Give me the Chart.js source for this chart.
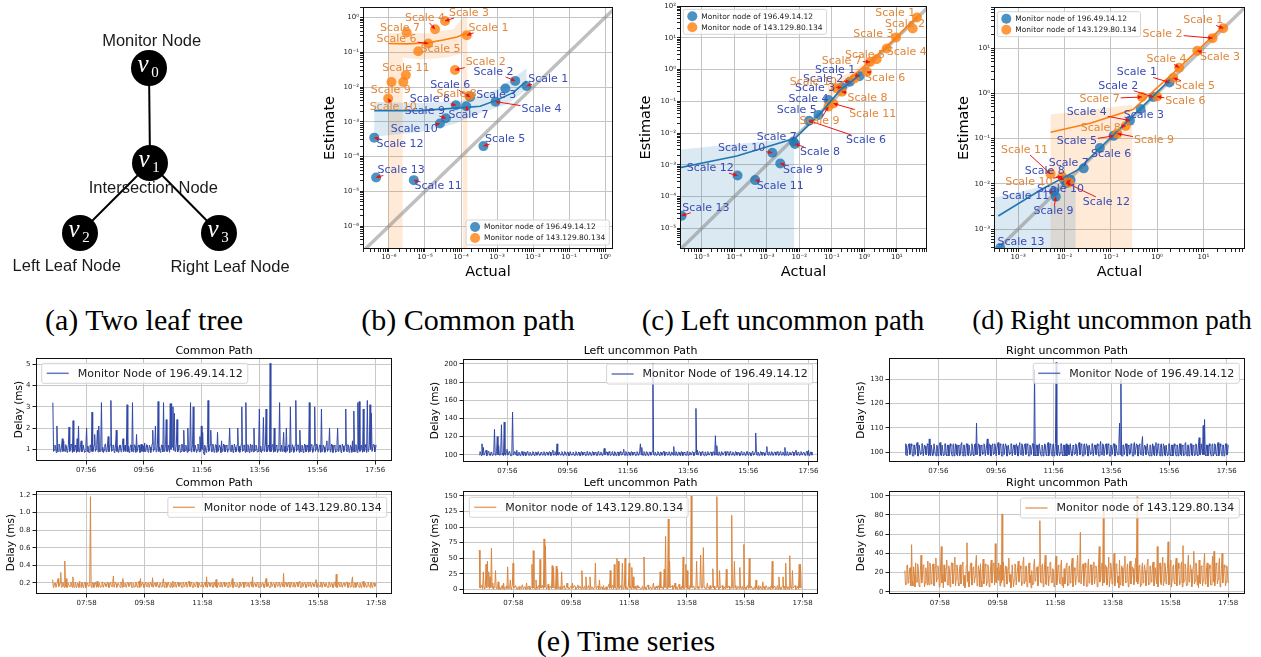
<!DOCTYPE html>
<html><head><meta charset="utf-8">
<script src="https://cdn.jsdelivr.net/npm/chart.js@4.4.1/dist/chart.umd.min.js"></script>
<style>
html,body{margin:0;padding:0;background:#fff;}
#page{position:relative;width:1261px;height:657px;overflow:hidden;background:#fff;}
canvas{position:absolute;}
.cap{position:absolute;width:420px;text-align:center;font-family:"Liberation Serif","Times New Roman",serif;font-size:30px;line-height:32px;color:#000;white-space:nowrap;}
</style></head><body><div id="page">
<div class="cap" style="left:-66px;top:304px;">(a) Two leaf tree</div>
<div class="cap" style="left:258px;top:304px;">(b) Common path</div>
<div class="cap" style="left:573px;top:304px;font-size:29px;">(c) Left uncommon path</div>
<div class="cap" style="left:902px;top:304px;font-size:27px;">(d) Right uncommon path</div>
<div class="cap" style="left:416px;top:625px;">(e) Time series</div>
</div>
<script>
// ---------------- DATA ----------------
// (a) tree
const nodeNames = ['Monitor Node','Intersection Node','Left Leaf Node','Right Leaf Node'];
const nodeSymbols = ['0','1','2','3'];
const nodeX = [149,150,80,219];
const nodeY = [68,163,233,233];
const treeEdges = [[0,1],[1,2],[1,3]];

const scaleNames = ['Scale 1','Scale 2','Scale 3','Scale 4','Scale 5','Scale 6','Scale 7','Scale 8','Scale 9','Scale 10','Scale 11','Scale 12','Scale 13'];
const scatterLegend = ['Monitor node of 196.49.14.12','Monitor node of 143.129.80.134'];

// (b) Common path
const bBlueActual = [6.6e-3,3.2e-3,1.7e-3,9.1e-4,4.2e-4,1.8e-4,1.4e-4,7.2e-5,3.8e-5,2.6e-5,4.9e-6,3.9e-7,4.4e-7];
const bBlueEst    = [1.07e-2,1.5e-2,9.1e-3,3.8e-3,2.0e-4,5.2e-3,2.8e-3,3.0e-3,1.26e-3,8.9e-4,2.1e-5,3.5e-4,2.5e-5];
const bOrangeActual = [1.45e-4,6.8e-5,3.6e-5,1.9e-5,6.5e-6,1.23e-5,3.1e-6,1.7e-4,1.17e-6,9.5e-7,2.95e-6,2.5e-6];
const bOrangeEst    = [0.31,3.1e-2,0.79,0.46,0.107,0.178,0.37,5.6e-3,1.4e-2,4.7e-3,2.2e-2,1.4e-2];
const bBlueFitX = [3.9e-7,7.2e-6,1.45e-4,3.4e-4,9.8e-4,2.8e-3,6.6e-3];
const bBlueFitY = [2.1e-3,2.1e-3,2.6e-3,2.8e-3,4.2e-3,6.9e-3,1.48e-2];
const bOrangeFitX = [9.5e-7,3.1e-6,1.15e-5,3.2e-5,7.8e-5,1.45e-4];
const bOrangeFitY = [0.178,0.174,0.186,0.224,0.275,0.36];
const bBlueBandX = [3.9e-7,7.2e-6,1.45e-4,9.8e-4,6.6e-3,6.6e-3,1.9e-3,3.4e-4,6.2e-5,7.2e-6,3.9e-7];
const bBlueBandY = [3.8e-3,3.4e-3,4.2e-3,8.5e-3,3.4e-2,8.5e-3,3.2e-3,1.8e-3,8.5e-4,5.1e-4,3.7e-4];
const bOrangeBandX = [9.5e-7,9.5e-7,1.1e-5,6.2e-5,1.15e-4,1.5e-4,1.5e-4,1.12e-4,1.12e-4,4e-5,7.2e-6,2.4e-6,2.4e-6];
const bOrangeBandY = [1e-7,0.36,0.35,0.46,1.05,1.05,1e-7,1e-7,9.3e-2,7.1e-2,6.2e-2,7.1e-2,1e-7];

// (c) Left uncommon path
const cBlueActual = [0.71,0.36,0.204,0.079,0.039,0.020,6.6e-3,7.4e-3,2.6e-3,1.48e-3,4.4e-4,1.26e-4,2.4e-6];
const cBlueEst    = [0.62,0.41,0.275,0.11,0.037,0.0245,5.4e-3,4.5e-3,1.1e-3,2.4e-3,3.3e-4,4.6e-4,2.5e-5];
const cOrangeActual = [41.7,30.9,9.5,4.9,2.4,1.2,1.5,0.204,0.079,0.141,0.112,0.5];
const cOrangeEst    = [43.6,19.5,10.2,4.6,2.1,0.85,1.74,0.2,0.068,0.257,0.085,0.52];
const cBlueFitX = [2.1e-6,1.2e-4,7.4e-3,0.044,0.18,0.74];
const cBlueFitY = [8.1e-4,1.9e-3,6.8e-3,0.041,0.224,0.68];
const cOrangeFitX = [0.085,0.47,4.9,41.7];
const cOrangeFitY = [0.214,0.66,5.2,45.7];
const cBlueBandX = [2e-6,6.9e-3,6.9e-3,2e-6];
const cBlueBandY = [3.0e-3,6.8e-3,1e-6,1e-6];
const cOrangeBandX = [0.075,0.47,4.9,45,45,4.9,0.47,0.075];
const cOrangeBandY = [0.11,0.5,4.4,40,55,6.1,0.9,0.38];

// (d) Right uncommon path
const dBlueActual = [1.86,0.83,0.44,0.26,0.115,0.058,0.026,9.8e-3,6.5e-3,1.35e-2,5.9e-3,1.1e-2,4.1e-4];
const dBlueEst    = [1.74,0.83,0.45,0.25,0.115,0.062,0.022,1.23e-2,5.2e-3,1.23e-2,6.8e-3,1.05e-2,3.8e-4];
const dOrangeActual = [26.9,15.8,7.4,3.0,2.24,1.0,0.47,0.21,0.138,8.9e-3,5.0e-3,1.26e-2];
const dOrangeEst    = [27.5,16.6,8.7,3.7,2.19,0.85,0.83,0.19,0.129,1.45e-2,1.66e-2,1.07e-2];
const dBlueFitX = [3.7e-4,3.1e-3,0.019,0.19,1.9];
const dBlueFitY = [1.95e-3,7.4e-3,0.020,0.20,2.0];
const dOrangeFitX = [5.0e-3,0.036,0.30,2.24,26.9];
const dOrangeFitY = [0.138,0.219,0.44,2.8,30.2];
const dBlueBandX = [3e-4,5.0e-3,1.74e-2,1.74e-2,3e-4];
const dBlueBandY = [4.9e-3,9.5e-3,1.23e-2,1e-4,1e-4];
const dOrangeBandX = [5.0e-3,0.29,0.29,5.0e-3];
const dOrangeBandY = [0.34,0.56,1e-4,1e-4];

// (e) time series (delay in ms), samples evenly spaced between start and end minute of day
const tsCommonBlue = [
3.2,0.9,0.95,1.2,1.15,0.85,2.1,0.9,0.9,1.25,1.2,0.88,0.95,1.2,1.5,0.9,1.4,0.92,0.9,1.22,1.15,0.86,0.95,1.2,2.05,0.9,1.0,1.25,1.2,0.85,2.35,0.9,0.9,1.2,1.1,0.85,1.5,0.9,2.1,0.88,
0.9,1.22,1.4,0.88,0.95,1.2,1.2,0.85,0.9,1.25,2.0,0.9,1.15,0.86,0.85,1.2,1.2,0.9,2.75,0.88,0.95,1.2,1.7,0.9,1.0,1.22,1.9,0.88,2.1,0.9,0.9,1.2,3.2,0.9,1.1,0.85,0.95,1.22,1.25,0.88,
0.9,1.2,1.6,0.88,1.0,1.22,3.3,0.9,0.95,1.2,1.2,0.85,0.9,1.25,1.9,0.9,1.15,0.86,0.9,1.2,1.2,0.88,0.95,1.22,1.5,0.9,1.0,1.2,0.9,1.25,3.1,0.88,1.15,0.85,0.95,1.2,1.2,0.9,3.2,0.88,
0.95,1.22,1.15,0.86,1.7,0.9,0.9,1.2,1.2,0.85,1.0,1.25,0.9,1.2,1.15,0.88,1.3,0.9,0.95,1.22,1.2,0.86,0.9,1.2,1.1,0.85,0.95,1.25,1.9,0.9,1.0,1.2,2.1,0.88,0.9,1.22,3.25,0.9,1.1,0.86,
0.95,1.2,1.2,0.88,3.2,0.9,1.0,1.22,2.4,0.9,0.9,1.2,1.2,0.86,3.15,1.0,3.15,1.1,3.0,0.95,2.7,0.9,1.0,1.22,2.4,0.88,0.95,1.2,1.15,0.85,0.9,1.25,1.2,0.9,1.9,0.88,0.95,1.2,1.1,0.86,
2.0,0.9,0.95,1.2,3.2,0.88,1.0,1.22,3.0,0.9,0.9,1.2,1.2,0.85,0.95,1.25,1.15,0.88,1.6,0.9,2.1,1.0,1.8,0.9,0.75,1.2,1.1,0.86,0.95,1.22,3.3,0.9,1.0,1.2,1.9,0.88,0.9,1.25,1.15,0.86,
0.95,1.22,1.2,0.86,1.8,0.9,0.9,1.2,1.1,0.85,1.4,0.9,0.95,1.25,1.2,0.88,0.9,1.2,1.15,0.86,1.0,1.22,2.0,0.9,0.9,1.2,1.2,0.85,0.95,1.25,1.1,0.88,0.9,1.2,2.0,0.9,1.15,0.86,0.95,1.22,
3.0,0.9,0.95,1.2,1.2,0.86,3.2,0.9,0.9,1.22,1.15,0.85,1.0,1.25,0.9,1.2,1.2,0.88,2.0,0.9,0.95,1.2,1.1,0.86,0.9,1.22,2.9,0.9,1.15,0.85,0.95,1.2,2.5,0.9,1.0,1.25,2.9,0.88,0.9,1.2,
1.15,0.9,5.05,0.88,0.95,1.22,1.2,0.86,2.0,0.9,0.9,1.2,1.15,0.85,0.95,1.25,3.2,0.9,1.0,1.2,0.9,1.22,1.8,0.88,1.15,0.86,2.0,0.9,0.9,1.2,1.2,0.85,3.0,0.9,0.95,1.22,1.1,0.86,0.9,1.2,
3.3,0.9,1.0,1.22,1.2,0.86,1.9,0.9,0.9,1.2,1.15,0.85,0.95,1.25,1.2,0.88,0.9,1.2,1.1,0.86,3.2,0.9,0.95,1.22,1.2,0.85,0.9,1.2,3.0,0.9,1.0,1.25,1.15,0.88,0.9,1.2,1.2,0.86,2.9,0.9,
0.95,1.2,1.1,0.86,0.9,1.22,1.4,0.9,1.0,1.2,2.0,0.88,0.9,1.25,1.2,0.85,0.95,1.2,1.15,0.86,0.9,1.22,2.0,0.9,1.0,1.2,1.2,0.85,0.9,1.25,1.15,0.88,0.95,1.2,2.9,0.9,0.9,1.22,1.2,0.86,
0.95,1.2,1.1,0.86,1.4,0.9,2.8,0.88,0.9,1.22,1.15,0.85,3.2,1.0,3.25,0.9,0.95,1.2,1.2,0.86,2.9,0.9,0.9,1.22,1.1,0.85,3.3,0.9,0.95,1.2,3.1,1.0,2.7,0.9,0.9,1.25,1.2,0.88,1.0,1.2];
const tsCommonOrange = [
0.24,0.15,0.16,0.2,0.2,0.15,0.15,0.21,0.25,0.16,0.17,0.2,0.32,0.15,0.16,0.21,0.19,0.15,0.45,0.16,0.25,0.15,0.15,0.2,0.2,0.16,0.16,0.21,0.19,0.15,0.27,0.16,0.15,0.2,0.21,0.15,0.16,0.2,0.19,0.15,
0.22,0.16,0.15,0.21,0.2,0.15,0.16,0.2,0.21,0.15,0.15,0.2,0.19,0.16,0.17,0.21,1.18,0.16,0.15,0.2,0.2,0.15,0.16,0.21,0.19,0.15,0.22,0.16,0.15,0.2,0.2,0.15,0.16,0.21,0.21,0.15,0.15,0.2,0.19,0.16,
0.16,0.21,0.2,0.15,0.15,0.2,0.21,0.16,0.16,0.2,0.28,0.15,0.15,0.21,0.19,0.15,0.17,0.2,0.2,0.16,0.15,0.21,0.21,0.15,0.25,0.16,0.16,0.2,0.19,0.15,0.15,0.21,0.2,0.16,0.17,0.2,0.21,0.15,0.15,0.2,
0.19,0.15,0.16,0.21,0.2,0.16,0.15,0.2,0.22,0.15,0.25,0.16,0.16,0.21,0.19,0.15,0.15,0.2,0.21,0.16,0.16,0.2,0.2,0.15,0.15,0.21,0.19,0.16,0.26,0.15,0.15,0.2,0.2,0.16,0.16,0.21,0.21,0.15,0.15,0.2,
0.19,0.15,0.16,0.2,0.25,0.16,0.15,0.21,0.2,0.15,0.17,0.21,0.21,0.16,0.15,0.2,0.19,0.15,0.22,0.16,0.16,0.21,0.2,0.15,0.15,0.2,0.21,0.16,0.16,0.2,0.19,0.15,0.15,0.21,0.2,0.16,0.17,0.2,0.21,0.15,
0.15,0.2,0.22,0.16,0.16,0.21,0.2,0.15,0.15,0.2,0.19,0.16,0.17,0.21,0.21,0.15,0.15,0.2,0.2,0.16,0.16,0.21,0.19,0.15,0.15,0.2,0.21,0.16,0.27,0.15,0.15,0.21,0.2,0.16,0.16,0.2,0.19,0.15,0.15,0.21,
0.21,0.16,0.24,0.15,0.15,0.2,0.19,0.16,0.16,0.21,0.2,0.15,0.15,0.2,0.21,0.16,0.16,0.2,0.19,0.15,0.15,0.21,0.2,0.16,0.17,0.2,0.25,0.15,0.15,0.21,0.21,0.16,0.16,0.2,0.19,0.15,0.15,0.21,0.2,0.16,
0.16,0.2,0.21,0.15,0.15,0.21,0.19,0.16,0.17,0.2,0.2,0.15,0.15,0.21,0.21,0.16,0.27,0.15,0.15,0.2,0.19,0.16,0.16,0.21,0.2,0.15,0.15,0.2,0.21,0.16,0.16,0.2,0.19,0.15,0.15,0.21,0.25,0.16,0.16,0.2,
0.2,0.15,0.15,0.21,0.21,0.16,0.16,0.2,0.19,0.15,0.15,0.21,0.2,0.16,0.17,0.2,0.21,0.15,0.15,0.2,0.19,0.16,0.31,0.15,0.15,0.21,0.2,0.16,0.16,0.2,0.21,0.15,0.15,0.21,0.19,0.16,0.16,0.2,0.2,0.15,
0.15,0.2,0.21,0.16,0.16,0.21,0.22,0.15,0.15,0.2,0.2,0.16,0.16,0.21,0.19,0.15,0.15,0.2,0.21,0.16,0.17,0.21,0.2,0.15,0.15,0.2,0.19,0.16,0.16,0.21,0.24,0.15,0.15,0.2,0.2,0.16,0.16,0.21,0.21,0.15,
0.15,0.21,0.19,0.16,0.16,0.2,0.2,0.15,0.15,0.21,0.21,0.16,0.17,0.2,0.19,0.15,0.15,0.21,0.2,0.16,0.3,0.15,0.15,0.2,0.21,0.16,0.16,0.21,0.19,0.15,0.15,0.2,0.2,0.16,0.16,0.21,0.21,0.15,0.15,0.2,
0.19,0.15,0.16,0.21,0.27,0.16,0.15,0.2,0.2,0.15,0.16,0.21,0.21,0.16,0.15,0.2,0.19,0.15,0.17,0.21,0.22,0.16,0.15,0.2,0.2,0.15,0.16,0.21,0.19,0.16,0.15,0.2,0.21,0.15,0.16,0.2,0.2,0.16,0.17,0.2];
const tsLeftBlue = [
100,103.5,103,99,112,100,108,99.5,99.5,103,105,99,100,103.5,103,99.5,99,103,102.5,99,100,103,128,100,99.5,103.5,120,100,110,99.5,100,103,133,100,102,99,136,100,99.5,103,
106,99.5,100,103.5,103,99,99,103,147,100,100.5,103.5,103,99.5,105,99,99.5,103,102,99,100,103.5,103.5,99.5,99,103,102.5,99,100,103.5,103,99.5,99.5,103,102,99,100,103.5,103,99.5,
99,103,102.5,99.5,100,103.5,103.5,99,99.5,103,102,99.5,100,103.5,103,99,99,103,102.5,99.5,100,103.5,103,99,99.5,103,105,99.5,100,103.5,102.5,99,112,100,99.5,103,103,99.5,100,103.5,
102,99,99.5,103.5,103,99.5,100,103,102.5,99,99,103.5,103.5,99.5,100,103,102,99,99.5,103.5,103,99.5,100,103,102.5,99,99,103.5,103,99.5,100,103,102,99,99.5,103.5,103.5,99.5,100,103,
102.5,99,99.5,103.5,103,99.5,100,103,102,99,99,103.5,103,99.5,100,103,102.5,99,99.5,103.5,107,100,100,103,103,99.5,99.5,103.5,102,99,100,103,103.5,99.5,99,103.5,102.5,99,100,103,
103,99,99.5,103.5,102,99.5,100,103,106,99.5,99.5,103.5,103,99,100,103,102.5,99.5,99,103.5,103,99.5,100,103,102,99,99.5,103.5,103,99.5,100,103,112,100,108,99.5,99.5,103.5,103,99,
100,103.5,102.5,99,99.5,103,103,99.5,100,103.5,201,100,99.5,103,102,99,100,103.5,103,99.5,99,103,102.5,99.5,100,103.5,103.5,99,99.5,103,102,99.5,100,103.5,103,99,99.5,103,102.5,99.5,
109,100,99.5,103.5,103,99,100,103,102.5,99.5,99,103.5,103,99,100,103,102,99.5,99.5,103.5,103.5,99,100,103,102.5,99.5,99.5,103.5,103,99,100,103,151,100,105,99.5,99.5,103.5,103,99,
100,103.5,102.5,99.5,99,103,103,99,100,103.5,102,99.5,99.5,103,103,99,100,103.5,102.5,99.5,121,100,110,99.5,99.5,103,103,99,100,103.5,102,99.5,99.5,103,103.5,99,100,103.5,102.5,99.5,
99,103.5,103,99.5,100,103,102.5,99,99.5,103.5,103,99.5,100,103,102,99,99.5,103.5,103,99.5,100,103,102.5,99,99.5,103.5,103.5,99.5,100,103,102,99,99,103.5,103,99.5,100,103,124,100,
99.5,103,102.5,99,100,103.5,103,99.5,99.5,103,102,99,100,103.5,109,100,99.5,103,103,99.5,100,103.5,102.5,99,99,103,103,99.5,100,103.5,102,99,99.5,103,103.5,99.5,100,103,102.5,99,
108,100,99.5,103.5,103,99,100,103,102,99.5,99.5,103.5,103,99,100,103,105,99.5,99.5,103,102.5,99,100,103.5,103,99.5,99.5,103,102,99,100,103.5,103.5,99.5,105,99,99.5,103,103,99.5];
const tsLeftOrange = [
63,2,2,6,5,0,28,3,1,5,40,2,45,4,28,1,20,3,66,2,10,0,3,6,30,2,1,4,12,0,4,1,0,5,6,1,10,0,2,4,
5,1,36,2,1,4,15,0,3,6,42,2,2,5,6,1,0,3,4,0,5,2,1,6,7,1,2,4,3,0,10,2,1,5,5,0,2,3,40,1,
62,2,3,0,15,1,1,5,6,0,48,2,2,6,4,1,81,3,70,2,1,4,8,0,3,5,5,1,38,2,35,3,2,0,37,1,32,2,1,4,
4,0,28,1,2,5,6,0,1,3,10,2,3,0,0,4,5,1,10,2,2,6,4,0,1,3,7,1,3,5,2,0,30,2,1,4,5,0,20,1,
2,5,6,0,20,2,1,4,4,0,3,6,42,1,2,5,5,0,15,2,1,4,3,0,6,1,0,3,4,0,2,5,8,1,30,2,1,6,5,0,
40,2,3,0,50,3,45,1,2,5,6,0,42,2,1,4,50,1,4,0,2,5,42,2,5,0,35,3,20,1,3,5,1,0,6,2,2,4,4,0,
1,4,5,0,52,2,3,0,2,6,7,1,1,3,4,0,2,5,10,1,3,0,5,2,1,6,6,0,28,2,2,4,4,0,32,3,85,2,3,0,
113,3,45,2,2,5,6,0,1,3,10,1,4,0,2,6,8,1,3,0,5,2,52,1,1,4,40,2,30,1,3,0,6,2,150,3,2,5,4,0,
1,5,45,2,5,0,3,6,55,2,2,4,67,3,4,0,1,5,10,2,3,0,6,1,2,4,33,2,5,0,1,3,149,4,4,0,30,2,2,5,
6,0,1,4,4,0,32,2,2,5,5,0,3,2,119,3,1,4,45,2,6,0,2,5,4,1,35,2,1,4,5,0,72,3,3,0,2,6,6,1,
50,2,2,5,5,0,1,3,4,0,15,2,3,0,6,1,2,5,1,0,12,2,4,0,2,6,6,1,1,4,3,0,5,2,45,1,2,5,4,0,
1,4,6,0,20,2,3,0,2,5,20,1,5,0,42,2,1,4,4,0,54,3,3,1,30,2,2,5,6,0,1,3,5,0,40,2,40,3,3,1];
const tsRightBlue = [
99,103.5,103,98.5,98.5,103,103.5,99,99.5,103.5,102.5,98.5,98.5,103,103,99,99,103.5,104,98.5,98.5,103,103,99,99.5,103.5,103.5,98.5,98.5,103,102.5,99,99,103.5,103,98.5,105.5,99,98.5,103,
103,98.5,99,103.5,103.5,99,98.5,103,102.5,98.5,99.5,103.5,104,99,98.5,103,103,98.5,99,103.5,103.5,99,98.5,103,103,98.5,99.5,103.5,102.5,99,98.5,103,103.5,98.5,99,103.5,103,99,98.5,103,
102.5,98.5,99,103.5,104,99,98.5,103,103,98.5,99.5,103.5,103.5,99,98.5,103,103,98.5,99,103.5,102.5,99,98.5,103,103.5,99,112,99,99,103.5,103,98.5,98.5,103,102.5,99,99.5,103.5,103,98.5,
98.5,103,105.5,99,99,103.5,103,98.5,98.5,103,103.5,99,99.5,103.5,102.5,98.5,98.5,103,104,99,99,103.5,103,98.5,98.5,103,103.5,99,99,103.5,102.5,98.5,98.5,103,103,99,99.5,103.5,103.5,98.5,
98.5,103,103,99,99,103.5,102.5,98.5,98.5,103,104,99,99,103.5,103,98.5,98.5,103,103.5,99,99.5,103.5,103,98.5,98.5,103,102.5,99,99,103.5,103.5,98.5,134,99,98.5,103,103,98.5,99,103.5,
103.5,99,98.5,103,102.5,98.5,99.5,103.5,103,99,98.5,103,104,98.5,99,103.5,103,99,98.5,103,103.5,98.5,99,103.5,137,99,98.5,103,103,98.5,99.5,103.5,103.5,99,98.5,103,103,98.5,99,103.5,
98.5,103,103,99,99,103.5,103.5,98.5,98.5,103,102.5,99,99.5,103.5,103,98.5,98.5,103,104,99,99,103.5,103,98.5,98.5,103,103.5,99,99,103.5,102.5,98.5,98.5,103,103,99,99.5,103.5,103.5,98.5,
98.5,103,103,99,99,103.5,102.5,98.5,98.5,103,104.5,99,99,103.5,103,98.5,98.5,103,103.5,99,99.5,103.5,103,98.5,98.5,103,102.5,99,99,103.5,103.5,98.5,98.5,103,103,99,99,103.5,112,99,
130,98.5,98.5,103,103,99,99,103.5,103.5,98.5,98.5,103,102.5,99,99.5,103.5,103,98.5,98.5,103,104,99,99,103.5,103,98.5,98.5,103,103.5,99,99,103.5,106.5,98.5,98.5,103,102.5,99,99,103.5,
103.5,99,98.5,103,103,98.5,99,103.5,102.5,99,98.5,103,104,98.5,99.5,103.5,103,99,98.5,103,103.5,98.5,99,103.5,102.5,99,98.5,103,103,98.5,99,103.5,103.5,99,98.5,103,103,98.5,99.5,103.5,
102.5,99,98.5,103,103,98.5,99,103.5,103.5,99,98.5,103,102.5,98.5,99,103.5,104,99,98.5,103,103,98.5,99.5,103.5,103.5,99,98.5,103,102.5,98.5,99,103.5,103,99,98.5,103,106,99,99,103.5,
103.5,99,111,99,113.5,99,98.5,103,103,98.5,99,103.5,102.5,99,98.5,103,103.5,98.5,99.5,103.5,103,99,98.5,103,104,98.5,99,103.5,102.5,99,98.5,103,103,98.5,99,103.5,103.5,99,99,103];
const tsRightOrange = [
22,7,8,27,28,9,12,24,25,6,49,11,6,26,18,5,30,10,10,29,24,6,5,22,38,9,15,28,27,5,9,25,20,7,32,12,7,30,26,8,
12,28,29,6,8,26,35,10,14,27,23,5,6,29,47,9,18,4,28,11,10,25,33,7,7,27,24,5,16,30,30,8,9,23,36,6,13,28,25,9,
6,24,28,8,11,29,31,6,17,4,8,27,51,10,21,5,12,28,30,7,7,25,26,9,15,30,38,6,9,27,22,5,29,11,5,24,34,8,13,29,
27,6,10,28,24,5,8,26,33,9,16,29,30,7,50,10,9,25,12,30,23,6,28,9,81,12,31,5,14,27,26,8,8,24,35,10,18,4,6,28,
28,5,12,29,28,7,7,25,32,10,15,27,24,6,9,30,36,8,11,26,27,5,6,24,30,9,17,4,22,7,8,28,34,11,13,25,26,6,10,29,
74,10,9,27,29,5,14,28,38,8,7,26,25,6,16,30,31,9,10,24,23,5,6,29,37,7,12,26,28,10,8,27,33,6,15,4,24,8,11,28,
30,6,7,26,27,9,13,29,35,5,9,25,22,7,16,28,38,10,10,24,62,8,8,27,29,6,14,30,25,5,6,26,34,9,12,28,28,7,9,25,
31,8,15,27,24,5,8,29,47,10,12,26,30,6,88,9,10,28,26,7,7,25,36,5,14,30,23,8,9,26,40,6,11,29,28,9,16,4,33,7,
8,27,25,6,13,28,37,9,10,25,29,5,6,30,32,8,15,26,24,7,9,29,35,10,99,8,12,27,28,5,7,24,30,9,17,28,22,6,10,30,
34,7,8,26,27,10,14,29,31,6,9,25,25,8,47,5,12,28,30,9,7,27,36,6,11,30,26,8,15,24,52,7,9,28,33,5,13,26,28,9,
8,28,35,6,16,30,24,7,10,27,31,5,48,9,12,29,27,6,7,25,38,10,14,28,23,5,9,26,42,8,11,30,29,7,17,4,33,9,8,27,
26,6,12,29,40,8,9,25,30,5,15,28,24,7,7,26,37,10,42,6,11,30,28,8,13,27,35,5,8,24,40,9,16,28,25,6,10,27,20,9];

const tickMinutesBlue = [476,596,716,836,956,1076];
const tickLabelsBlue = ['07:56','09:56','11:56','13:56','15:56','17:56'];
const tickMinutesOrange = [478,598,718,838,958,1078];
const tickLabelsOrange = ['07:58','09:58','11:58','13:58','15:58','17:58'];
const yTicksCommonBlue = [1,2,3,4,5];
const yTicksCommonOrange = [0.2,0.4,0.6,0.8,1.0,1.2];
const yTicksLeftBlue = [100,120,140,160,180,200];
const yTicksLeftOrange = [0,25,50,75,100,125,150];
const yTicksRightBlue = [100,110,120,130];
const yTicksRightOrange = [0,20,40,60,80,100];

// ---------------- STYLE / HELPERS ----------------
const BLUE_PT = 'rgba(31,119,180,0.8)', ORANGE_PT = 'rgba(255,127,14,0.8)';
const BLUE_TXT = '#3a4db5', ORANGE_TXT = '#e0883c';
const TS_BLUE = '#3047a5', TS_ORANGE = '#d98640';
Chart.defaults.font.family = '"DejaVu Sans", sans-serif';
Chart.defaults.color = '#222';

function mk(id, L, T, W, H) {
  const c = document.createElement('canvas');
  c.id = id; c.width = W; c.height = H;
  c.style.left = L + 'px'; c.style.top = T + 'px'; c.style.width = W + 'px'; c.style.height = H + 'px';
  document.getElementById('page').appendChild(c);
  return c.getContext('2d');
}
const SUP = {'-':'\u207B','0':'\u2070','1':'\u00B9','2':'\u00B2','3':'\u00B3','4':'\u2074','5':'\u2075','6':'\u2076','7':'\u2077','8':'\u2078','9':'\u2079'};
const sup = n => String(n).split('').map(c => SUP[c]).join('');
const pairs = (xs, ys) => xs.map((x, i) => ({x: x, y: ys[i]}));

const framePlugin = { id: 'frame', afterDatasetsDraw(chart) {
  const a = chart.chartArea, ctx = chart.ctx;
  ctx.save(); ctx.strokeStyle = '#111'; ctx.lineWidth = 1;
  ctx.strokeRect(Math.round(a.left) + 0.5, Math.round(a.top) + 0.5, Math.round(a.right - a.left) - 1, Math.round(a.bottom - a.top) - 1);
  ctx.restore();
}};

function boxLegend(cfg) {
  return { id: 'boxLegend', afterDraw(chart) {
    const ctx = chart.ctx, a = chart.chartArea;
    ctx.save();
    ctx.font = cfg.font;
    const tw = Math.max(...cfg.items.map(it => ctx.measureText(it.text).width));
    const w = cfg.padX * 2 + cfg.sampleW + cfg.gap + tw;
    const h = cfg.padY * 2 + cfg.rowH * cfg.items.length;
    const x = cfg.corner[1] === 'l' ? a.left + cfg.mx : a.right - cfg.mx - w;
    const y = cfg.corner[0] === 't' ? a.top + cfg.my : a.bottom - cfg.my - h;
    ctx.beginPath();
    if (ctx.roundRect) ctx.roundRect(x, y, w, h, 2); else ctx.rect(x, y, w, h);
    ctx.fillStyle = 'rgba(255,255,255,0.8)'; ctx.fill();
    ctx.strokeStyle = '#d4d4d4'; ctx.lineWidth = 1; ctx.stroke();
    cfg.items.forEach((it, k) => {
      const cy = y + cfg.padY + cfg.rowH * (k + 0.5);
      const sx = x + cfg.padX;
      if (cfg.marker === 'line') {
        ctx.strokeStyle = it.color; ctx.globalAlpha = 0.75; ctx.lineWidth = 1.5;
        ctx.beginPath(); ctx.moveTo(sx, cy); ctx.lineTo(sx + cfg.sampleW, cy); ctx.stroke();
        ctx.globalAlpha = 1;
      } else {
        ctx.fillStyle = it.color; ctx.beginPath();
        ctx.arc(sx + cfg.sampleW / 2, cy, cfg.sampleW / 2, 0, Math.PI * 2); ctx.fill();
      }
      ctx.fillStyle = '#222'; ctx.textAlign = 'left'; ctx.textBaseline = 'middle';
      ctx.fillText(it.text, sx + cfg.sampleW + cfg.gap, cy + 0.5);
    });
    ctx.restore();
  }};
}

function labelPlugin(sets) {
  return { id: 'scaleLabels', afterDatasetsDraw(chart) {
    const ctx = chart.ctx; ctx.save();
    ctx.font = '11px "DejaVu Sans"';
    const items = [];
    sets.forEach(s => {
      const meta = chart.getDatasetMeta(s.index);
      s.offsets.forEach((off, i) => {
        const el = meta.data[i]; if (!el || !off) return;
        items.push({text: scaleNames[i], color: s.color, px: el.x, py: el.y, tx: el.x + off[0], ty: el.y + off[1]});
      });
    });
    ctx.strokeStyle = '#ee1111'; ctx.fillStyle = '#ee1111'; ctx.lineWidth = 1;
    items.forEach(it => {
      const hw = ctx.measureText(it.text).width / 2 + 1, hh = 5;
      const dx = it.px - it.tx, dy = it.py - it.ty;
      const t = Math.min(dx ? hw / Math.abs(dx) : Infinity, dy ? hh / Math.abs(dy) : Infinity);
      if (t >= 1) return;
      const sx = it.tx + dx * t, sy = it.ty + dy * t;
      const len = Math.hypot(it.px - sx, it.py - sy); if (len < 3) return;
      const ux = (it.px - sx) / len, uy = (it.py - sy) / len;
      ctx.beginPath(); ctx.moveTo(sx, sy); ctx.lineTo(it.px, it.py); ctx.stroke();
      ctx.beginPath(); ctx.moveTo(it.px, it.py);
      ctx.lineTo(it.px - ux * 4 - uy * 2, it.py - uy * 4 + ux * 2);
      ctx.lineTo(it.px - ux * 4 + uy * 2, it.py - uy * 4 - ux * 2);
      ctx.closePath(); ctx.fill();
    });
    ctx.textAlign = 'center'; ctx.textBaseline = 'middle';
    items.forEach(it => { ctx.fillStyle = it.color; ctx.fillText(it.text, it.tx, it.ty); });
    ctx.restore();
  }};
}

function logTicks(scale) {
  const t = [];
  const e0 = Math.floor(Math.log10(scale.min)), e1 = Math.ceil(Math.log10(scale.max));
  for (let e = e0; e <= e1; e++) for (let k = 1; k <= 9; k++) {
    const v = k * Math.pow(10, e);
    if (v >= scale.min * 0.9999 && v <= scale.max * 1.0001) t.push({value: v, major: k === 1});
  }
  scale.ticks = t;
}
function logAxis(o) {
  return {
    type: 'logarithmic', min: o.min, max: o.max,
    afterBuildTicks: logTicks,
    afterFit: s => { if (s.isHorizontal()) s.height = o.size; else s.width = o.size; },
    ticks: {autoSkip: false, maxRotation: 0, minRotation: 0, font: {size: 7}, color: '#222', padding: 1,
      callback: (v, i, t) => t[i] && t[i].major ? '10' + sup(Math.round(Math.log10(v))) : ''},
    grid: {color: c => (c.tick && c.tick.major) ? '#c4c4c4' : 'rgba(0,0,0,0)', tickColor: '#222', tickLength: 3, lineWidth: 1},
    border: {display: false},
    title: {display: true, text: o.title, font: {size: 14.5}, color: '#000', padding: o.titlePad}
  };
}

function scatterChart(o) {
  const ctx = mk(o.id, o.L, o.T, o.W, o.H);
  const line = (xs, ys, color, ord) => ({data: pairs(xs, ys), showLine: true, borderColor: color, borderWidth: 1.6, pointRadius: 0, fill: false, order: ord, clip: 0});
  const band = (xs, ys, color) => ({data: pairs(xs, ys), showLine: true, borderWidth: 0, borderColor: 'rgba(0,0,0,0)', pointRadius: 0, fill: 'shape', backgroundColor: color, order: 6, clip: 0});
  const datasets = [
    {label: scatterLegend[0], data: pairs(o.bx, o.by), backgroundColor: BLUE_PT, borderWidth: 0, pointRadius: 5, order: 2},
    {label: scatterLegend[1], data: pairs(o.ox, o.oy), backgroundColor: ORANGE_PT, borderWidth: 0, pointRadius: 5, order: 1},
    line(o.bfx, o.bfy, '#1f77b4', 0),
    line(o.ofx, o.ofy, '#ff7f0e', 0),
    {data: [{x: 1e-9, y: 1e-9}, {x: 1e3, y: 1e3}], showLine: true, borderColor: 'rgba(128,128,128,0.5)', borderWidth: 3.5, pointRadius: 0, order: 4, clip: 0}
  ];
  o.bands.forEach(b => datasets.push(band(b[0], b[1], b[2])));
  new Chart(ctx, {
    type: 'scatter',
    data: {datasets: datasets},
    options: {
      responsive: false, animation: false, devicePixelRatio: 1, events: [],
      layout: {autoPadding: false, padding: {left: 0, right: o.padR, top: o.padT, bottom: 0}},
      plugins: {legend: {display: false}, tooltip: {enabled: false}},
      scales: {
        x: logAxis({min: o.xmin, max: o.xmax, size: o.xH, title: 'Actual', titlePad: {top: 0, bottom: 8.6}}),
        y: logAxis({min: o.ymin, max: o.ymax, size: o.yW, title: 'Estimate', titlePad: {top: o.yTitlePad, bottom: 0}})
      }
    },
    plugins: [framePlugin,
      labelPlugin([{index: 0, color: BLUE_TXT, offsets: o.bOff}, {index: 1, color: ORANGE_TXT, offsets: o.oOff}]),
      boxLegend({font: '7.5px "DejaVu Sans"', items: [{text: scatterLegend[0], color: BLUE_PT}, {text: scatterLegend[1], color: ORANGE_PT}],
        corner: o.legCorner, mx: o.legMx, my: o.legMy, padX: 4, padY: 1.5, rowH: 11, sampleW: 10, gap: 4, marker: 'circle'})]
  });
}

function tsChart(o) {
  const ctx = mk(o.id, o.L, o.T, o.W, o.H);
  const n = o.values.length;
  const pts = o.values.map((v, i) => ({x: o.t0 + i * (o.t1 - o.t0) / (n - 1), y: v}));
  new Chart(ctx, {
    type: 'line',
    data: {datasets: [{data: pts, borderColor: o.color, borderWidth: 1, pointRadius: 0, tension: 0, fill: false}]},
    options: {
      responsive: false, animation: false, devicePixelRatio: 1, events: [],
      layout: {autoPadding: false, padding: {left: 0, right: o.padR, top: 0, bottom: 0}},
      plugins: {legend: {display: false}, tooltip: {enabled: false},
        title: {display: true, fullSize: false, text: o.title, color: '#000', font: {size: 11, weight: 'normal'}, padding: {top: 4.4, bottom: o.titlePadB}}},
      scales: {
        x: {type: 'linear', min: o.xmin, max: o.xmax,
          afterFit: s => { s.height = o.xH; },
          afterBuildTicks: s => { s.ticks = o.xticks.map(v => ({value: v})); },
          ticks: {callback: (v, i) => o.xlabels[i], font: {size: 7}, color: '#222', maxRotation: 0, minRotation: 0, autoSkip: false, padding: 1},
          grid: {color: '#c8c8c8', tickColor: '#222', tickLength: 3.5, lineWidth: 1}, border: {display: false}},
        y: {type: 'linear', min: o.ymin, max: o.ymax,
          afterFit: s => { s.width = o.yW; },
          afterBuildTicks: s => { s.ticks = o.yticks.map(v => ({value: v})); },
          ticks: {callback: v => o.yfmt ? v.toFixed(1) : String(v), font: {size: 7}, color: '#222', autoSkip: false, padding: 2},
          grid: {color: '#c8c8c8', tickColor: '#222', tickLength: 3.5, lineWidth: 1}, border: {display: false},
          title: {display: true, text: 'Delay (ms)', color: '#000', font: {size: 10.5}, padding: {top: o.yTitlePad, bottom: 0}}}
      }
    },
    plugins: [framePlugin, boxLegend({font: '11px "DejaVu Sans"', items: [{text: o.legend, color: o.color}],
      corner: o.legCorner, mx: o.legMx, my: o.legMy, padX: 5, padY: 3.5, rowH: 13, sampleW: 22, gap: 9, marker: 'line'})]
  });
}

// ---------------- (a) TREE ----------------
(function () {
  const ctx = mk('tree', 0, 0, 320, 300);
  const nameOffsets = [[2.7, -27], [3.3, 25.6], [-13.3, 33.4], [11, 34]];
  const datasets = [{data: pairs(nodeX, nodeY), backgroundColor: '#000', borderWidth: 0, pointRadius: 18, order: 0}];
  treeEdges.forEach(e => datasets.push({data: [{x: nodeX[e[0]], y: nodeY[e[0]]}, {x: nodeX[e[1]], y: nodeY[e[1]]}],
    showLine: true, borderColor: '#000', borderWidth: 2, pointRadius: 0, order: 1}));
  const treeText = { id: 'treeText', afterDatasetsDraw(chart) {
    const c = chart.ctx, meta = chart.getDatasetMeta(0);
    c.save(); c.textAlign = 'center'; c.textBaseline = 'middle';
    nodeNames.forEach((name, i) => {
      const el = meta.data[i];
      c.fillStyle = '#1a1a1a'; c.font = '16.5px "Liberation Sans", Arial, sans-serif';
      c.fillText(name, el.x + nameOffsets[i][0], el.y + nameOffsets[i][1]);
      c.fillStyle = '#fff'; c.font = 'italic 25px "Liberation Serif", serif';
      c.fillText('v', el.x - 6, el.y - 3);
      c.font = '15px "Liberation Serif", serif';
      c.fillText(nodeSymbols[i], el.x + 6, el.y + 5);
    });
    c.restore();
  }};
  new Chart(ctx, {
    type: 'scatter', data: {datasets: datasets},
    options: {responsive: false, animation: false, devicePixelRatio: 1, events: [],
      layout: {autoPadding: false, padding: 0},
      plugins: {legend: {display: false}, tooltip: {enabled: false}},
      scales: {x: {type: 'linear', min: 0, max: 320, display: false}, y: {type: 'linear', min: 0, max: 300, reverse: true, display: false}}},
    plugins: [treeText]
  });
})();

// ---------------- (b)(c)(d) SCATTER ----------------
scatterChart({id: 'sb', L: 320, T: 0, W: 300, H: 290, padT: 7, padR: 7, yW: 43, xH: 41, yTitlePad: 2,
  xmin: 1.9e-7, xmax: 1.66, ymin: 2.2e-7, ymax: 2.0,
  bx: bBlueActual, by: bBlueEst, ox: bOrangeActual, oy: bOrangeEst,
  bfx: bBlueFitX, bfy: bBlueFitY, ofx: bOrangeFitX, ofy: bOrangeFitY,
  bands: [[bBlueBandX, bBlueBandY, 'rgba(31,119,180,0.16)'], [bOrangeBandX, bOrangeBandY, 'rgba(255,127,14,0.16)']],
  bOff: [[21.7,-6.7],[-21.7,-9],[-9,6.7],[46,7.3],[21.7,-7],[-20,-11.7],[2.3,9],[-26,-6.3],[-21,-7.3],[-25.7,6],[24.3,6],[25.7,6.7],[25,-7]],
  oOff: [[21.7,-7.3],[30.7,-7.3],[24,-8],[-10,-11.3],[22.3,-2],[-31.7,-4.3],[-6.7,-4.7],[-12.7,-1.3],[-0.7,7.7],[5,8.3],[0,-6.7]],
  legCorner: 'br', legMx: 3.7, legMy: 4});

scatterChart({id: 'sc', L: 620, T: 0, W: 320, H: 290, padT: 6, padR: 13, yW: 60, xH: 41, yTitlePad: 18,
  xmin: 2.14e-6, xmax: 85, ymin: 2.24e-6, ymax: 100,
  bx: cBlueActual, by: cBlueEst, ox: cOrangeActual, oy: cOrangeEst,
  bfx: cBlueFitX, bfy: cBlueFitY, ofx: cOrangeFitX, ofy: cOrangeFitY,
  bands: [[cBlueBandX, cBlueBandY, 'rgba(31,119,180,0.16)'], [cOrangeBandX, cOrangeBandY, 'rgba(255,127,14,0.16)']],
  bOff: [[-24.3,-6],[-26.7,-2.7],[-26.7,1],[-20,-1],[-21.7,-5],[57,19.3],[-16.7,-4.3],[25,7.7],[22.7,6.7],[-30.7,-5],[25,5.7],[-27.3,-7.3],[24.3,-8]],
  oOff: [[-21.7,-4.7],[-7.7,-4],[-22.7,-3],[20,3.3],[-11.7,-4.3],[18.3,6],[-28.3,-1],[25.7,6],[-9,15],[-23.3,-5.7],[39.3,11]],
  legCorner: 'tl', legMx: 3.3, legMy: 3.3});

scatterChart({id: 'sd', L: 940, T: 0, W: 321, H: 290, padT: 7, padR: 16, yW: 54, xH: 41, yTitlePad: 15.3,
  xmin: 3.16e-4, xmax: 79.4, ymin: 3.63e-4, ymax: 81,
  bx: dBlueActual, by: dBlueEst, ox: dOrangeActual, oy: dOrangeEst,
  bfx: dBlueFitX, bfy: dBlueFitY, ofx: dOrangeFitX, ofy: dOrangeFitY,
  bands: [[dBlueBandX, dBlueBandY, 'rgba(31,119,180,0.16)'], [dOrangeBandX, dOrangeBandY, 'rgba(255,127,14,0.16)']],
  bOff: [[-32.7,-10],[-35,-11.3],[3.3,5.7],[-43.3,-8.3],[-36.7,5.7],[11.3,6],[-15,-5],[-19.3,-8.3],[-2.3,14.3],[-10,9.3],[-28.3,5],[40,19],[20.7,-5.7]],
  oOff: [[-20,-7.7],[-50,-4.3],[22.7,6.3],[-12.7,-8.3],[21.7,7.7],[28.3,5],[-42.3,1.7],[-25,2.3],[36.7,7],[-33.3,6],[-26,-24]],
  legCorner: 'tl', legMx: 3.3, legMy: 4.7});

// ---------------- (e) TIME SERIES ----------------
const legBlue = 'Monitor Node of 196.49.14.12', legOrange = 'Monitor node of 143.129.80.134';
tsChart({id: 'tsA', L: 0, T: 340, W: 410, H: 140, padR: 18, yW: 36, xH: 19, titlePadB: 0.4, yTitlePad: 12.7,
  title: 'Common Path', values: tsCommonBlue, t0: 407, t1: 1078, xmin: 372, xmax: 1111,
  xticks: tickMinutesBlue, xlabels: tickLabelsBlue, ymin: 0.45, ymax: 5.30, yticks: yTicksCommonBlue,
  color: TS_BLUE, legend: legBlue, legCorner: 'tl', legMx: 5.7, legMy: 5.3});
tsChart({id: 'tsB', L: 0, T: 472, W: 410, H: 138, padR: 18, yW: 36, xH: 16, titlePadB: 1.4, yTitlePad: 5.4,
  title: 'Common Path', values: tsCommonOrange, t0: 407.5, t1: 1078, xmin: 373, xmax: 1111,
  xticks: tickMinutesOrange, xlabels: tickLabelsOrange, ymin: 0.075, ymax: 1.245, yticks: yTicksCommonOrange, yfmt: true,
  color: TS_ORANGE, legend: legOrange, legCorner: 'tr', legMx: 5.3, legMy: 6.3});
tsChart({id: 'tsC', L: 420, T: 340, W: 410, H: 140, padR: 12, yW: 43, xH: 18, titlePadB: 1.4, yTitlePad: 8.7,
  title: 'Left uncommon Path', values: tsLeftBlue, t0: 420, t1: 1083, xmin: 387.7, xmax: 1095,
  xticks: tickMinutesBlue, xlabels: tickLabelsBlue, ymin: 92, ymax: 205.5, yticks: yTicksLeftBlue,
  color: TS_BLUE, legend: legBlue, legCorner: 'tr', legMx: 5.3, legMy: 5});
tsChart({id: 'tsD', L: 420, T: 472, W: 410, H: 138, padR: 12, yW: 43, xH: 16, titlePadB: 1.4, yTitlePad: 8.7,
  title: 'Left uncommon Path', values: tsLeftOrange, t0: 407.5, t1: 1078, xmin: 373.7, xmax: 1110,
  xticks: tickMinutesOrange, xlabels: tickLabelsOrange, ymin: -7.6, ymax: 158, yticks: yTicksLeftOrange,
  color: TS_ORANGE, legend: legOrange, legCorner: 'tl', legMx: 6.3, legMy: 6.3});
tsChart({id: 'tsE', L: 830, T: 340, W: 431, H: 140, padR: 16, yW: 59, xH: 18, titlePadB: 0.4, yTitlePad: 25.4,
  title: 'Right uncommon Path', values: tsRightBlue, t0: 406.7, t1: 1079, xmin: 373.4, xmax: 1114,
  xticks: tickMinutesBlue, xlabels: tickLabelsBlue, ymin: 96, ymax: 138.8, yticks: yTicksRightBlue,
  color: TS_BLUE, legend: legBlue, legCorner: 'tr', legMx: 5.7, legMy: 5.3});
tsChart({id: 'tsF', L: 830, T: 472, W: 431, H: 138, padR: 16, yW: 59, xH: 16, titlePadB: 1.4, yTitlePad: 25.4,
  title: 'Right uncommon Path', values: tsRightOrange, t0: 405, t1: 1078, xmin: 372, xmax: 1113,
  xticks: tickMinutesOrange, xlabels: tickLabelsOrange, ymin: -2.4, ymax: 104.9, yticks: yTicksRightOrange,
  color: TS_ORANGE, legend: legOrange, legCorner: 'tr', legMx: 5.7, legMy: 7});
</script>
</body></html>
